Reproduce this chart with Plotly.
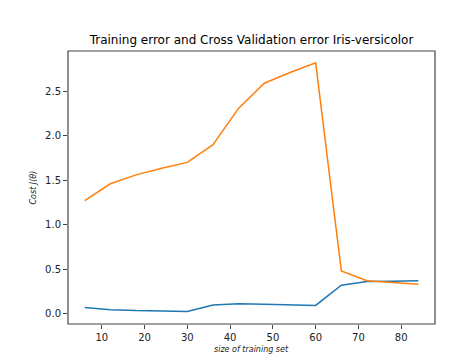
import plotly.graph_objects as go

sizes = [6, 12, 18, 24, 30, 36, 42, 48, 54, 60, 66, 72, 78, 84]
train_err = [0.07, 0.045, 0.034, 0.030, 0.025, 0.098, 0.11, 0.105, 0.098, 0.092, 0.32, 0.36, 0.365, 0.37]
cv_err = [1.27, 1.46, 1.56, 1.635, 1.70, 1.90, 2.31, 2.59, 2.71, 2.82, 0.48, 0.37, 0.35, 0.33]

font = "DejaVu Sans"
fig = go.Figure()
fig.add_trace(go.Scatter(x=sizes, y=train_err, mode="lines", line=dict(color="#1f77b4", width=1.5), showlegend=False))
fig.add_trace(go.Scatter(x=sizes, y=cv_err, mode="lines", line=dict(color="#ff7f0e", width=1.5), showlegend=False))

L, R, T, B = 60, 47, 43, 39
pw, ph = 474 - L - R, 355 - T - B

fig.update_layout(
    width=474, height=355,
    margin=dict(l=L, r=R, t=T, b=B),
    paper_bgcolor="white", plot_bgcolor="white",
    font=dict(family=font, color="black", size=10),
    title=dict(text="Training error and Cross Validation error Iris-versicolor",
               font=dict(family=font, size=12, color="black"),
               x=0.5, xref="paper", xanchor="center",
               y=1 - 32 / 355, yref="container", yanchor="middle"),
    shapes=[dict(type="rect", xref="paper", yref="paper", x0=0, y0=0, x1=1, y1=1,
                 line=dict(color="#444", width=1.2), fillcolor="rgba(0,0,0,0)", layer="above")],
    annotations=[
        dict(text="<i>size of training set</i>", xref="paper", yref="paper",
             x=0.5, y=-(341 - (355 - B)) / ph, xanchor="center", yanchor="middle",
             showarrow=False, font=dict(family=font, size=8, color="#222")),
        dict(text="<i>Cost J(θ)</i>", xref="paper", yref="paper",
             x=-(L - 25) / pw, y=0.5, xanchor="center", yanchor="middle", textangle=-90,
             showarrow=False, font=dict(family=font, size=8, color="#222")),
    ],
)
axis_common = dict(showline=False,
                   ticks="outside", ticklen=4, tickwidth=1, tickcolor="#444",
                   showgrid=False, zeroline=False, tickfont=dict(family=font, size=10, color="#222"))
fig.update_xaxes(range=[2.1, 87.9], tickvals=[10, 20, 30, 40, 50, 60, 70, 80], **axis_common)
fig.update_yaxes(range=[-0.1165, 2.9525], tickvals=[0, 0.5, 1, 1.5, 2, 2.5],
                 ticktext=["0.0", "0.5", "1.0", "1.5", "2.0", "2.5"], **axis_common)

fig.write_html("out.html")
